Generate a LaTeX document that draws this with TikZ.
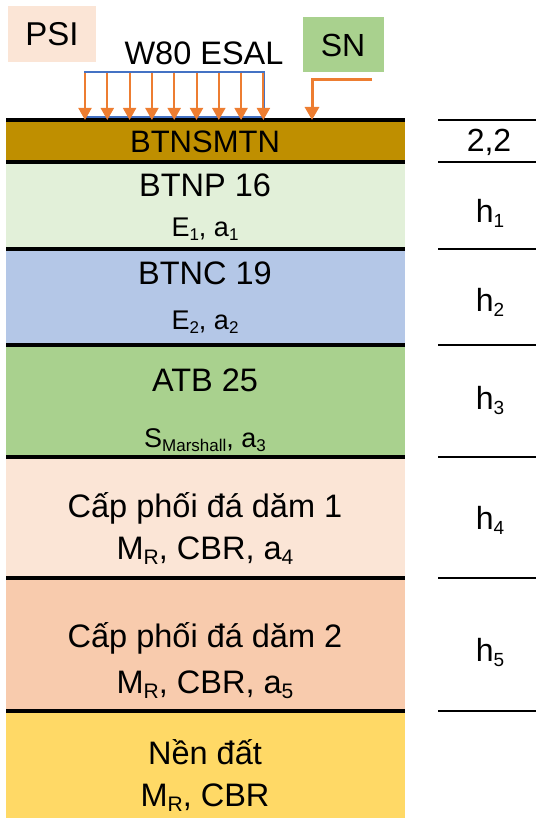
\documentclass[tikz,border=0pt]{standalone}
\usepackage{fontspec}
\setmainfont{Liberation Sans}
\usetikzlibrary{arrows.meta}
\definecolor{cSMA}{HTML}{BF8F00}
\definecolor{cBTNP}{HTML}{E2F0D9}
\definecolor{cBTNC}{HTML}{B4C7E7}
\definecolor{cATB}{HTML}{A9D18E}
\definecolor{cCP1}{HTML}{FBE5D6}
\definecolor{cCP2}{HTML}{F8CBAD}
\definecolor{cNEN}{HTML}{FFD966}
\definecolor{cOr}{HTML}{ED7D31}
\definecolor{cBl}{HTML}{4472C4}
\newcommand{\lsub}[1]{\raisebox{-4pt}{\fontsize{17}{17}\selectfont #1}}
\newcommand{\hsub}[1]{\raisebox{-5pt}{\fontsize{21}{21}\selectfont #1}}
\newcommand{\rsub}[1]{\raisebox{-5pt}{\fontsize{19}{19}\selectfont #1}}
\tikzset{
  big/.style={font=\fontsize{32.5}{36}\selectfont, inner sep=0pt},
  small/.style={font=\fontsize{27}{30}\selectfont, inner sep=0pt},
  lbl/.style={font=\fontsize{32}{36}\selectfont, inner sep=0pt},
  sep/.style={line width=4pt, black},
  rsep/.style={line width=1.6pt, black},
  load/.style={cOr, line width=2pt, -{Triangle[width=13pt,length=12pt]}},
}
\begin{document}
\begin{tikzpicture}[x=1pt,y=-1pt]
\useasboundingbox (0,0) rectangle (536,818);
% layers
\fill[cSMA] (6,120) rectangle (405,162);
\fill[cBTNP] (6,162) rectangle (405,249);
\fill[cBTNC] (6,249) rectangle (405,345);
\fill[cATB] (6,345) rectangle (405,457);
\fill[cCP1] (6,457) rectangle (405,578);
\fill[cCP2] (6,578) rectangle (405,711);
\fill[cNEN] (6,711) rectangle (405,818);
\foreach \y in {120,162,249,345,457,578,711}
  \draw[sep] (6,\y) -- (405,\y);
\foreach \y in {120,162,249,345,457,578,711}
  \draw[rsep] (438,\y) -- (536,\y);
% layer texts
\node[font=\fontsize{31}{34}\selectfont, inner sep=0pt] (t0) at (205,142) {BTNSMTN};
\node[big] (t1) at (205,185) {BTNP 16};
\node[small] (s1) at (205,229) {E\lsub{1}, a\lsub{1}};
\node[big] (t2) at (205,273) {BTNC 19};
\node[small] (s2) at (205,322) {E\lsub{2}, a\lsub{2}};
\node[big] (t3) at (205,380) {ATB 25};
\node[small] (s3) at (205,440) {S\lsub{Marshall}, a\lsub{3}};
\node[big] (t4) at (205,508) {Cấp phối đá dăm 1};
\node[big] (s4) at (205,551) {M\hsub{R}, CBR, a\hsub{4}};
\node[big] (t5) at (205,638) {Cấp phối đá dăm 2};
\node[big] (s5) at (205,685) {M\hsub{R}, CBR, a\hsub{5}};
\node[big] (t6) at (205,752) {Nền đất};
\node[big] (s6) at (205,798) {M\hsub{R}, CBR};
% right labels
\node[lbl] (r0) at (489,142) {2,2};
\node[lbl] (r1) at (490,213) {h\rsub{1}};
\node[lbl] (r2) at (490,302) {h\rsub{2}};
\node[lbl] (r3) at (490,400) {h\rsub{3}};
\node[lbl] (r4) at (490,520) {h\rsub{4}};
\node[lbl] (r5) at (490,652) {h\rsub{5}};
% PSI and SN
\node[fill=cCP1, minimum width=88pt, minimum height=56pt, inner sep=0pt, font=\fontsize{33}{36}\selectfont] (psi) at (52,34) {PSI};
\node[fill=cATB, minimum width=81pt, minimum height=55pt, inner sep=0pt, font=\fontsize{32}{36}\selectfont] (sn) at (343,45) {SN};
\node[big] (esal) at (204,53) {W80 ESAL};
% load bracket
\draw[cBl, line width=1.2pt] (85,118) -- (85,72) -- (264,72) -- (264,118);
\draw[cBl, line width=1.5pt] (85,117) -- (264,117);
\foreach \i in {0,...,8}{
  \coordinate (a\i) at ({85+\i*22.3},73);
  \coordinate (b\i) at ({85+\i*22.3},120);
  \draw[load] (a\i) -- (b\i);
}
% SN arrow
\coordinate (sna) at (372,80);
\coordinate (snb) at (312,80);
\coordinate (snc) at (312,120);
\draw[cOr, line width=3pt, -{Triangle[width=14pt,length=13pt]}] (sna) -- (snb) -- (snc);
\end{tikzpicture}
\end{document}
